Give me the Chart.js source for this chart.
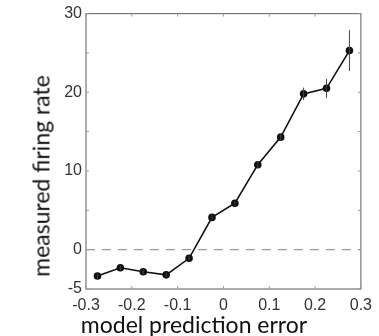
<!DOCTYPE html>
<html><head><meta charset="utf-8">
<script src="https://cdn.jsdelivr.net/npm/chart.js@4/dist/chart.umd.min.js"></script>
<style>
html,body{margin:0;padding:0;background:#fff;}
#wrap{position:relative;width:379px;height:336px;}
canvas{position:absolute;left:0;top:0;}
.lab{position:absolute;font-family:Lato,"Open Sans",sans-serif;font-size:23px;color:#111;white-space:nowrap;line-height:1;}
#xl{left:194px;top:313px;transform:translateX(-50%);}
#yl{left:41px;top:176px;transform:translate(-50%,-50%) rotate(-90deg);}
</style></head>
<body><div id="wrap"><canvas id="c" width="379" height="336"></canvas>
<div class="lab" id="xl">model prediction error</div>
<div class="lab" id="yl">measured firing rate</div></div>
<script>
const xVals = [-0.275,-0.225,-0.175,-0.125,-0.075,-0.025,0.025,0.075,0.125,0.175,0.225,0.275];
const yVals = [-3.35,-2.3,-2.8,-3.2,-1.1,4.1,5.9,10.8,14.3,19.8,20.5,25.3];
const yErr  = [0.3,0.3,0.3,0.3,0.3,0.3,0.3,0.4,0.5,0.8,1.2,2.6];
const refX = [-0.3,0.3];
const refY = [0,0];
const yLabeled = [-5,0,10,20,30];

const frame = {
  id:'frame',
  afterDatasetsDraw(chart){
    const {ctx, chartArea:a, scales:{x,y}} = chart;
    ctx.save();
    ctx.strokeStyle='#444'; ctx.lineWidth=1;
    xVals.forEach((xv,i)=>{
      const px=x.getPixelForValue(xv);
      ctx.beginPath();
      ctx.moveTo(px,y.getPixelForValue(yVals[i]-yErr[i]));
      ctx.lineTo(px,y.getPixelForValue(yVals[i]+yErr[i]));
      ctx.stroke();
    });
    ctx.strokeStyle='#777'; ctx.lineWidth=1.2;
    ctx.strokeRect(a.left,a.top,a.right-a.left,a.bottom-a.top);
    ctx.lineWidth=1; ctx.strokeStyle='#999';
    y.ticks.forEach(t=>{
      const py=y.getPixelForValue(t.value);
      ctx.beginPath();ctx.moveTo(a.left,py);ctx.lineTo(a.left+3,py);ctx.stroke();
      ctx.beginPath();ctx.moveTo(a.right,py);ctx.lineTo(a.right-3,py);ctx.stroke();
    });
    x.ticks.forEach(t=>{
      const px=x.getPixelForValue(t.value);
      ctx.beginPath();ctx.moveTo(px,a.bottom);ctx.lineTo(px,a.bottom-3);ctx.stroke();
      ctx.beginPath();ctx.moveTo(px,a.top);ctx.lineTo(px,a.top+3);ctx.stroke();
    });
    ctx.restore();
  }
};

new Chart(document.getElementById('c'),{
  type:'scatter',
  data:{datasets:[
    {data:refX.map((v,i)=>({x:v,y:refY[i]})),showLine:true,borderColor:'#9a9a9a',borderWidth:1.2,borderDash:[9,7],pointRadius:0},
    {data:xVals.map((v,i)=>({x:v,y:yVals[i]})),showLine:true,borderColor:'#111',borderWidth:1.6,pointRadius:3,pointBackgroundColor:'#111',pointBorderColor:'#111'}
  ]},
  options:{
    responsive:false,animation:false,
    layout:{padding:{top:13,right:16,left:0,bottom:0}},
    plugins:{legend:{display:false},tooltip:{enabled:false}},
    scales:{
      x:{type:'linear',min:-0.3,max:0.3,
        grid:{display:false,drawTicks:false},border:{display:false},
        afterFit(s){s.height=47;},
        ticks:{stepSize:0.1,padding:7,color:'#333',font:{family:'"Liberation Sans",Arial,sans-serif',size:16},
          callback:v=>{const r=Math.round(v*10)/10;return r===0?'0':String(r);}}},
      y:{type:'linear',min:-5,max:30,
        grid:{display:false,drawTicks:false},border:{display:false},
        afterFit(s){s.width=86;},
        ticks:{stepSize:5,padding:4,color:'#333',font:{family:'"Liberation Sans",Arial,sans-serif',size:16},
          callback:v=>yLabeled.includes(v)?String(v):''}}
    }
  },
  plugins:[frame]
});
</script></body></html>
